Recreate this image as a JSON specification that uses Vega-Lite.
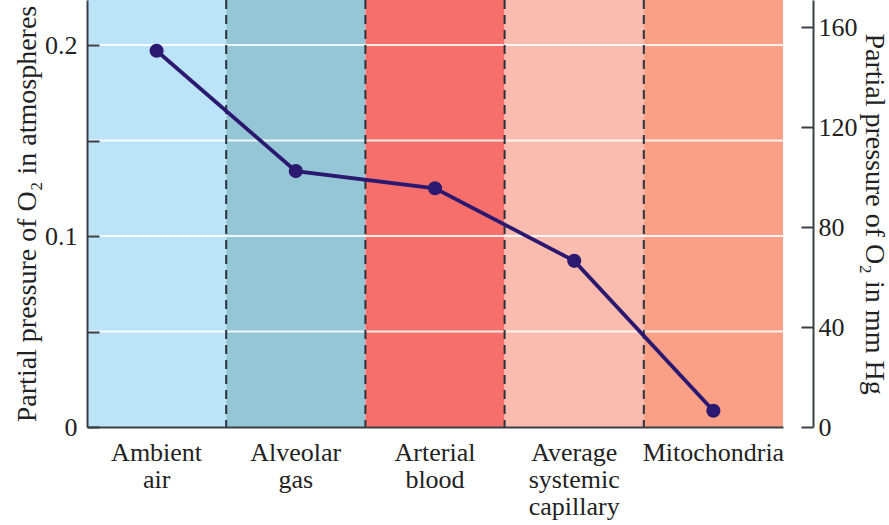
{
  "$schema": "https://vega.github.io/schema/vega-lite/v6.json",
  "width": 696,
  "height": 427,
  "autosize": "none",
  "padding": {"left": 87, "top": 0, "right": 106, "bottom": 98},
  "background": "white",
  "config": {"view": {"stroke": null}, "font": "Liberation Serif"},
  "data": {
    "values": [
      {"stage": "Ambient air", "atm": 0.197, "mmHg": 150},
      {"stage": "Alveolar gas", "atm": 0.134, "mmHg": 102},
      {"stage": "Arterial blood", "atm": 0.125, "mmHg": 95},
      {"stage": "Average systemic capillary", "atm": 0.087, "mmHg": 66},
      {"stage": "Mitochondria", "atm": 0.0085, "mmHg": 6.5}
    ]
  },
  "layer": [
    {
      "mark": {"type": "rect"},
      "encoding": {
        "x": {"field": "stage", "type": "nominal", "sort": null, "scale": {"paddingInner": 0, "paddingOuter": 0}},
        "y": {"datum": 0, "type": "quantitative", "scale": {"domain": [0, 0.2236], "nice": false}, "axis": null},
        "y2": {"datum": 0.2236},
        "color": {
          "field": "stage",
          "type": "nominal",
          "sort": null,
          "legend": null,
          "scale": {
            "domain": ["Ambient air", "Alveolar gas", "Arterial blood", "Average systemic capillary", "Mitochondria"],
            "range": ["#bce4f8", "#95c6d6", "#f76f6a", "#fbbcb0", "#f9a087"]
          }
        }
      }
    },
    {
      "data": {"values": [{"g": 0.05}, {"g": 0.1}, {"g": 0.15}, {"g": 0.2}]},
      "mark": {"type": "rule", "color": "#ffffff", "strokeWidth": 2, "opacity": 0.85},
      "encoding": {
        "y": {"field": "g", "type": "quantitative", "scale": {"domain": [0, 0.2236], "nice": false}, "axis": null}
      }
    },
    {
      "transform": [{"filter": "datum.stage != 'Ambient air'"}],
      "mark": {"type": "rule", "color": "#2a333b", "strokeWidth": 2, "strokeDash": [9, 6]},
      "encoding": {
        "x": {"field": "stage", "type": "nominal", "sort": null, "bandPosition": 0}
      }
    },
    {
      "mark": {"type": "line", "color": "#2b1870", "strokeWidth": 3.8},
      "encoding": {
        "x": {
          "field": "stage",
          "type": "nominal",
          "sort": null,
          "scale": {"paddingInner": 0, "paddingOuter": 0},
          "axis": {
            "title": null,
            "orient": "bottom",
            "zindex": 1,
            "ticks": false,
            "domain": true,
            "domainColor": "#3a3f44",
            "domainWidth": 2,
            "labelAngle": 0,
            "labelAlign": "center",
            "labelFont": "Liberation Serif",
            "labelFontSize": 26,
            "labelLineHeight": 27,
            "labelColor": "#222222",
            "labelPadding": 12,
            "labelLimit": 0,
            "labelBaseline": "top",
            "labelOverlap": false,
            "labelExpr": "datum.value == 'Ambient air' ? ['Ambient', 'air'] : datum.value == 'Alveolar gas' ? ['Alveolar', 'gas'] : datum.value == 'Arterial blood' ? ['Arterial', 'blood'] : datum.value == 'Average systemic capillary' ? ['Average', 'systemic', 'capillary'] : datum.label"
          }
        },
        "y": {
          "field": "atm",
          "type": "quantitative",
          "scale": {"domain": [0, 0.2236], "nice": false},
          "axis": {
            "orient": "left",
            "zindex": 1,
            "title": "Partial pressure of O₂ in atmospheres",
            "titleFont": "Liberation Serif",
            "titleFontSize": 28,
            "titleFontWeight": "normal",
            "titleColor": "#222222",
            "titlePadding": 3,
            "values": [0, 0.05, 0.1, 0.15, 0.2],
            "labelExpr": "datum.value == 0 ? '0' : datum.value == 0.1 ? '0.1' : datum.value == 0.2 ? '0.2' : ''",
            "labelFont": "Liberation Serif",
            "labelFontSize": 26,
            "labelColor": "#222222",
            "labelPadding": 22,
            "tickSize": -12,
            "tickWidth": 2,
            "tickColor": "#3a3f44",
            "domainColor": "#3a3f44",
            "domainWidth": 2,
            "grid": false
          }
        }
      }
    },
    {
      "mark": {"type": "point", "filled": true, "color": "#2b1870", "size": 200, "opacity": 1},
      "encoding": {
        "x": {"field": "stage", "type": "nominal", "sort": null},
        "y": {"field": "atm", "type": "quantitative", "scale": {"domain": [0, 0.2236], "nice": false}, "axis": null}
      }
    },
    {
      "mark": {"type": "point", "opacity": 0},
      "encoding": {
        "x": {"field": "stage", "type": "nominal", "sort": null},
        "y": {
          "field": "mmHg",
          "type": "quantitative",
          "scale": {"domain": [0, 170.8], "nice": false},
          "axis": {
            "orient": "right",
            "offset": 30,
            "title": "Partial pressure of O₂ in mm Hg",
            "titleFont": "Liberation Serif",
            "titleFontSize": 28,
            "titleFontWeight": "normal",
            "titleColor": "#222222",
            "titlePadding": 2,
            "values": [0, 40, 80, 120, 160],
            "format": "d",
            "labelFont": "Liberation Serif",
            "labelFontSize": 26,
            "labelColor": "#222222",
            "labelPadding": 17,
            "tickSize": -12,
            "tickWidth": 2,
            "tickColor": "#3a3f44",
            "domainColor": "#3a3f44",
            "domainWidth": 2,
            "grid": false
          }
        }
      }
    }
  ],
  "resolve": {"scale": {"y": "independent"}, "axis": {"y": "independent"}}
}
